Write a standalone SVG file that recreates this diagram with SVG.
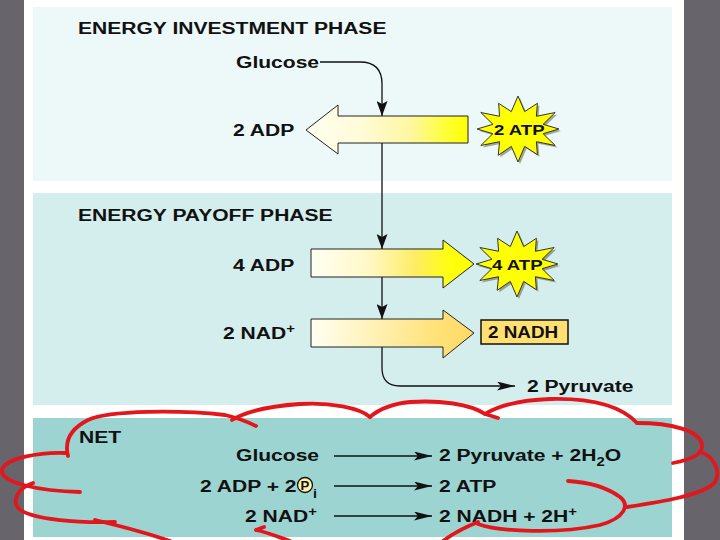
<svg xmlns="http://www.w3.org/2000/svg" width="720" height="540" viewBox="0 0 720 540">
<defs>
<style>
.t{font-family:"Liberation Sans",Arial,sans-serif;font-weight:bold;font-size:17px;fill:#111}
.s{font-family:"Liberation Sans",Arial,sans-serif;font-weight:bold;font-size:15px;fill:#111}
.ln{fill:none;stroke:#111;stroke-width:1.3}
.blk{stroke:#222;stroke-width:1}
.red{fill:none;stroke:#e3161c;stroke-width:3.8;stroke-linecap:round;stroke-linejoin:round}
</style>
<linearGradient id="gInv" x1="0" y1="0" x2="1" y2="0">
<stop offset="0" stop-color="#fffff2"/><stop offset="0.35" stop-color="#fffbd6"/><stop offset="0.65" stop-color="#fff7a0"/><stop offset="0.88" stop-color="#ffff30"/><stop offset="1" stop-color="#ffff00"/>
</linearGradient>
<linearGradient id="gAtp" x1="0" y1="0" x2="1" y2="0">
<stop offset="0" stop-color="#fffff2"/><stop offset="0.35" stop-color="#fff8c8"/><stop offset="0.65" stop-color="#ffec60"/><stop offset="0.85" stop-color="#ffff10"/><stop offset="1" stop-color="#ffff00"/>
</linearGradient>
<linearGradient id="gNad" x1="0" y1="0" x2="1" y2="0">
<stop offset="0" stop-color="#fffff2"/><stop offset="0.4" stop-color="#fff1b4"/><stop offset="0.75" stop-color="#ffe27a"/><stop offset="1" stop-color="#ffda64"/>
</linearGradient>
<marker id="ah" markerWidth="15" markerHeight="11" refX="15" refY="5.5" orient="auto" markerUnits="userSpaceOnUse"><path d="M0,0 L15,5.5 L0,11 L3,5.5 z" fill="#111"/></marker>
<marker id="ahs" markerWidth="18" markerHeight="9" refX="18" refY="4.5" orient="auto" markerUnits="userSpaceOnUse"><path d="M0,0 L18,4.5 L0,9 L4,4.5 z" fill="#111"/></marker>
<polygon id="star" points="0,-33 6.7,-17.4 19.4,-25.7 18.4,-12.7 37.2,-16.5 25.1,-4.7 40.9,0 25.1,4.7 37.2,16.5 18.4,12.7 19.4,25.7 6.7,17.4 0,33 -6.7,17.4 -19.8,26.3 -18.4,12.7 -37.2,16.5 -25.1,4.7 -40.9,0 -25.1,-4.7 -37.2,-16.5 -18.4,-12.7 -19.4,-25.7 -6.7,-17.4"/>
</defs>

<rect width="720" height="540" fill="#67646b"/>
<rect x="24" y="0" width="660" height="540" fill="#ffffff"/>
<rect id="panel-investment" x="33" y="7" width="639" height="174" fill="#edf8f8"/>
<rect id="panel-payoff" x="33" y="193" width="639" height="212" fill="#d4eded"/>
<rect id="panel-net" x="33" y="418" width="639" height="119" fill="#9cd4d2"/>

<text class="t" transform="translate(78 34) scale(1.24 1)">ENERGY INVESTMENT PHASE</text>
<text class="t" transform="translate(78 221) scale(1.24 1)">ENERGY PAYOFF PHASE</text>
<text class="t" transform="translate(79 443) scale(1.24 1)">NET</text>

<g id="connectors">
<path class="ln" d="M320,62 L360,62 C375,62 382,70 382,84 L382,116" marker-end="url(#ah)"/>
<path class="ln" d="M382,143 L382,249" marker-end="url(#ah)"/>
<path class="ln" d="M382,277 L382,319" marker-end="url(#ah)"/>
<path class="ln" d="M382,347 L382,368 C382,380 388,386 400,386 L515,386" marker-end="url(#ahs)"/>
<path class="ln" d="M334,456 L432,456" marker-end="url(#ahs)"/>
<path class="ln" d="M334,486 L432,486" marker-end="url(#ahs)"/>
<path class="ln" d="M334,516 L432,516" marker-end="url(#ahs)"/>
</g>

<g id="glucose"><text class="t" transform="translate(236 68) scale(1.24 1)">Glucose</text></g>
<g id="adp2"><text class="t" transform="translate(233 136) scale(1.24 1)">2 ADP</text></g>
<g id="arrow-investment"><polygon class="blk" fill="url(#gInv)" points="306,130 338,105 338,116 468,116 468,143 338,143 338,154"/></g>
<g id="atp2">
<use href="#star" transform="translate(520 131)" fill="#55552a" opacity="0.5"/>
<use href="#star" transform="translate(518 129)" fill="#ffff00" stroke="#333" stroke-width="1"/>
<text class="s" transform="translate(494 135) scale(1.24 1)">2 ATP</text>
</g>

<g id="adp4"><text class="t" transform="translate(233 271) scale(1.24 1)">4 ADP</text></g>
<g id="arrow-atp"><polygon class="blk" fill="url(#gAtp)" points="311,249 443,249 443,240 474,264 443,288 443,277 311,277"/></g>
<g id="atp4">
<use href="#star" transform="translate(519 266)" fill="#55552a" opacity="0.5"/>
<use href="#star" transform="translate(517 264)" fill="#ffff00" stroke="#333" stroke-width="1"/>
<text class="s" transform="translate(492 270) scale(1.24 1)">4 ATP</text>
</g>

<g id="nad2"><text class="t" transform="translate(223 339) scale(1.24 1)">2 NAD<tspan font-size="12" dy="-6">+</tspan></text></g>
<g id="arrow-nad"><polygon class="blk" fill="url(#gNad)" points="311,319 443,319 443,310 474,333 443,358 443,347 311,347"/></g>
<g id="nadh2">
<rect x="481" y="320" width="87" height="24" fill="#ffe070" stroke="#111" stroke-width="1.5"/>
<text class="t" font-size="16" transform="translate(488 338) scale(1.18 1)" style="font-size:16px">2 NADH</text>
</g>

<g id="pyruvate2"><text class="t" transform="translate(527 392) scale(1.24 1)">2 Pyruvate</text></g>

<g id="net-glucose"><text class="t" transform="translate(236 461) scale(1.24 1)">Glucose</text></g>
<g id="net-pyruvate"><text class="t" transform="translate(439 461) scale(1.24 1)">2 Pyruvate + 2H<tspan font-size="12" dy="5">2</tspan><tspan dy="-5">O</tspan></text></g>
<g id="net-adp">
<text class="t" transform="translate(200 492) scale(1.24 1)">2 ADP + 2</text>
<circle cx="305" cy="485" r="7.5" fill="#fff2a8" stroke="#111" stroke-width="1.3"/>
<text class="s" font-size="12" style="font-size:12px" transform="translate(300.5 490) scale(1.1 1)">P</text>
<text class="s" style="font-size:12px" transform="translate(313 498) scale(1.2 1)">i</text>
</g>
<g id="net-atp"><text class="t" transform="translate(439 492) scale(1.24 1)">2 ATP</text></g>
<g id="net-nad"><text class="t" transform="translate(245 522) scale(1.24 1)">2 NAD<tspan font-size="12" dy="-6">+</tspan></text></g>
<g id="net-nadh"><text class="t" transform="translate(439 522) scale(1.24 1)">2 NADH + 2H<tspan font-size="12" dy="-6">+</tspan></text></g>

<g id="red-cloud">
<path class="red" d="M68,456 C64,440 72,428 88,420 C110,410 180,410 225,415 C238,418 246,421 256,426"/>
<path class="red" d="M66,453 C40,452 5,458 2,470 C0,483 40,491 80,492"/>
<path class="red" d="M33,483 C18,488 12,500 18,508 C30,520 80,523 115,522"/>
<path class="red" d="M95,520 C120,526 150,534 170,541"/>
<path class="red" d="M256,530 C266,532 276,536 290,541 M256,530 L264,527"/>
<path class="red" d="M232,420 C245,412 270,406 300,404 C330,402 360,408 370,417"/>
<path class="red" d="M370,417 C378,410 390,404 410,402 C440,400 470,404 485,414 L498,418"/>
<path class="red" d="M485,414 C500,405 520,400 550,399 C590,398 620,405 637,423"/>
<path class="red" d="M637,423 C670,423 700,430 702,445 C703,455 690,460 673,463"/>
<path class="red" d="M700,452 C712,455 722,470 715,482 C705,495 660,502 627,507"/>
<path class="red" d="M568,481 C585,482 605,486 620,497 C630,505 625,518 600,525 C560,534 500,532 478,524"/>
<path class="red" d="M443,541 C455,532 468,526 478,522"/>
</g>
</svg>
